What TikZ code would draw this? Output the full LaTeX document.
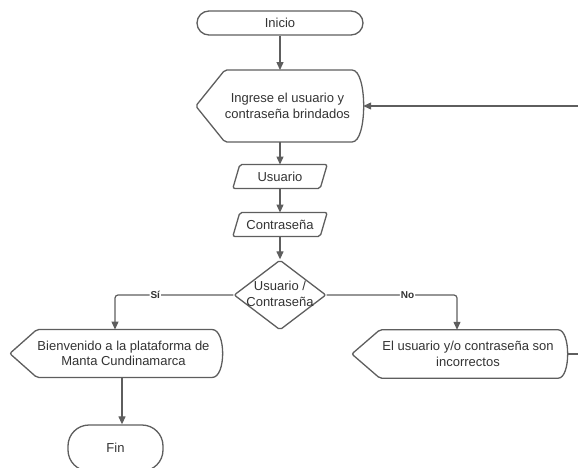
\documentclass[tikz,border=0pt]{standalone}
\usepackage{fontspec}
\setmainfont{Liberation Sans}
\usetikzlibrary{arrows.meta,shapes.geometric}
\definecolor{edge}{HTML}{5E5E5E}
\definecolor{ink}{HTML}{333333}

% Outline of a "display" box around node #1: pointed left end (#2 wide),
% curved right end (#3 deep).
\newcommand{\displayoutline}[3]{%
  \draw[outline] ([xshift=-#2]#1.west) -- (#1.north west) -- (#1.north east)
    .. controls ([xshift=1.33*#3]#1.north east) and ([xshift=1.33*#3]#1.south east) ..
    (#1.south east) -- (#1.south west) -- cycle;}
% Outline of a slanted input box around node #1.
\newcommand{\slantoutline}[2]{%
  \draw[outline] ([xshift=#2]#1.north west) -- ([xshift=#2]#1.north east)
    -- ([xshift=-#2]#1.south east) -- ([xshift=-#2]#1.south west) -- cycle;}

\begin{document}
\begin{tikzpicture}[x=1pt,y=-1pt,
  every node/.style={text=ink, font=\fontsize{13}{15.5}\selectfont, align=center, inner sep=0pt},
  outline/.style={draw=edge, line width=1.3pt, rounded corners=2pt},
  terminal/.style={draw=edge, line width=1.3pt, rectangle},
  flow/.style={draw=edge, line width=1.2pt, -{Triangle[length=8pt,width=7pt]}, rounded corners=3pt},
  plain/.style={draw=edge, line width=1.2pt},
  lbl/.style={fill=white, font=\bfseries\fontsize{10}{12}\selectfont, inner sep=1pt},
  box/.style={rectangle, minimum width=#1},
]
\useasboundingbox (0,0) rectangle (578,468);

% start / end
\node[terminal, rounded corners=12pt, minimum width=166, minimum height=24] (ini) at (280,23) {Inicio};
\node[terminal, rounded corners=21pt, minimum width=95, minimum height=46] (fin) at (115.5,448) {Fin};

% prompt
\node[box=111, minimum height=71.5] (ing) at (287.5,106) {Ingrese el usuario y\\contraseña brindados};
\displayoutline{ing}{29}{13}

% inputs
\node[box=87, minimum height=23.5] (usr) at (280,176.5) {Usuario};
\slantoutline{usr}{3.5}
\node[box=87, minimum height=23.5] (pwd) at (280,224.5) {Contraseña};
\slantoutline{pwd}{3.5}

% decision
\node[diamond, draw=edge, line width=1.3pt, rounded corners=2pt, minimum width=92, minimum height=70] (dec) at (280,295) {};
\node (dectxt) at (280,294) {Usuario /\\Contraseña};

% outcomes
\node[box=173, minimum height=47.5] (bien) at (123.5,353.5) {Bienvenido a la plataforma de\\Manta Cundinamarca};
\displayoutline{bien}{27}{12}
\node[box=176, minimum height=48] (inc) at (468,354) {El usuario y/o contraseña son\\incorrectos};
\displayoutline{inc}{28}{11}

% loop back ends
\coordinate (retTop) at (578,106);
\coordinate (retBot) at (578,354);

% connectors
\draw[flow] (ini.south) -- (ini.south |- ing.north);
\draw[flow] (ini.south |- ing.south) -- (usr.north);
\draw[flow] (usr.south) -- (pwd.north);
\draw[flow] (pwd.south) -- (dec.north);
\draw[flow] (dec.west) -| node[lbl, pos=0.33] {Sí} ([xshift=-8.5]bien.north);
\draw[flow] (dec.east) -| node[lbl, pos=0.31] {No} ([xshift=-11]inc.north);
\draw[flow] ([xshift=-1.5]bien.south) -- ([xshift=-1.5]bien.south |- fin.north);
\draw[plain] ([xshift=11]inc.east) -- (retBot);
\draw[flow] (retTop) -- ([xshift=13]ing.east);
\end{tikzpicture}
\end{document}
